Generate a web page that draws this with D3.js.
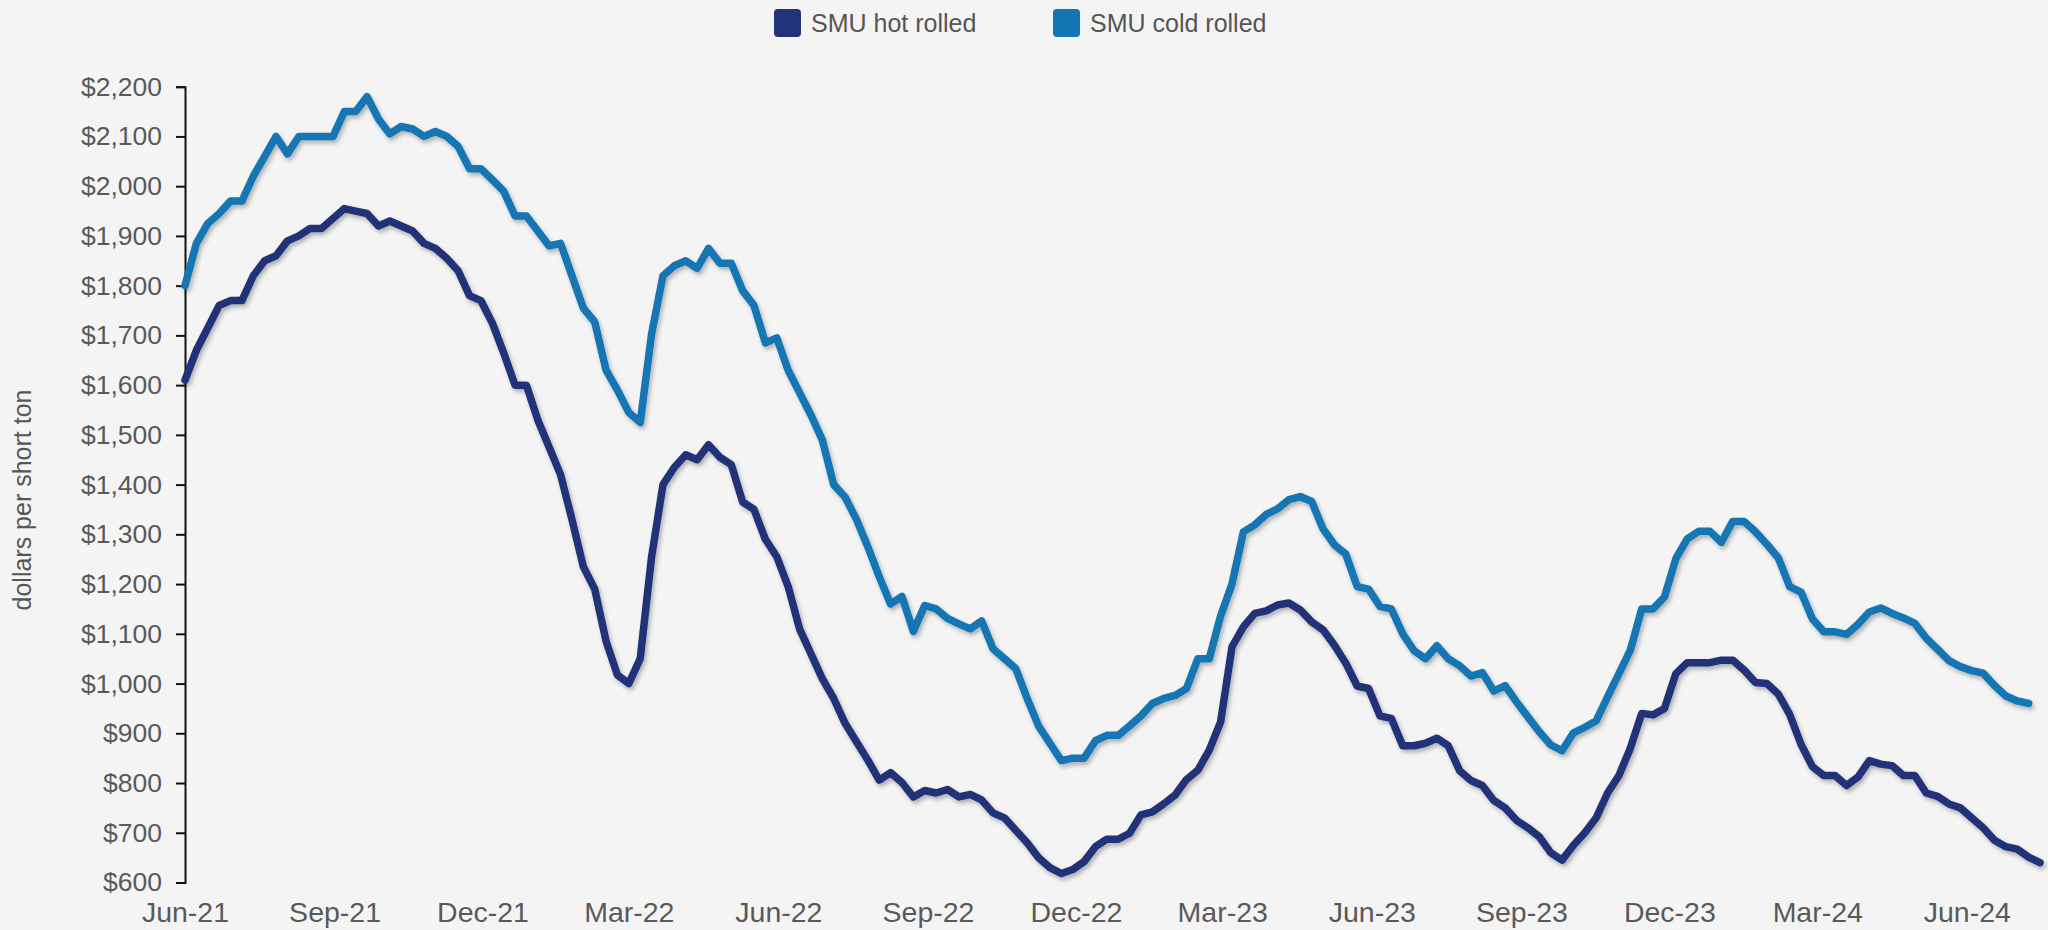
<!DOCTYPE html>
<html>
<head>
<meta charset="utf-8">
<script src="https://cdn.jsdelivr.net/npm/d3@7"></script>
<style>
  html, body { margin: 0; padding: 0; background: #f4f4f4; }
  svg { display: block; font-family: "Liberation Sans", Arial, Helvetica, sans-serif; }
</style>
</head>
<body>
<svg id="chart" width="2048" height="930"></svg>
<script>
// ---- data ----
const seriesNames = ["SMU hot rolled", "SMU cold rolled"];
const seriesColors = ["#213379", "#1276b4"];
const firstWeek = new Date(2021, 5, 1);   // weekly (Tuesday) readings
const lastWeek = new Date(2024, 6, 16);
const tickLabels = ["Jun-21","Sep-21","Dec-21","Mar-22","Jun-22","Sep-22","Dec-22",
                    "Mar-23","Jun-23","Sep-23","Dec-23","Mar-24","Jun-24"];
const yTicks = [600,700,800,900,1000,1100,1200,1300,1400,1500,1600,1700,1800,1900,2000,2100,2200];

const hotRolled = [
 1610,1670,1715,1760,1770,1770,1820,1850,1860,1890,1900,1915,1915,1935,1955,1950,1945,1920,1930,1920,
 1910,1885,1875,1855,1830,1780,1770,1725,1665,1600,1600,1530,1475,1420,1330,1235,1190,1085,1017,1000,
 1050,1255,1400,1435,1460,1450,1480,1455,1440,1365,1350,1290,1255,1195,1110,1060,1010,970,920,883,
 846,806,821,801,772,785,780,787,772,777,766,740,730,705,680,650,630,618,626,642,
 672,687,687,699,736,742,758,776,807,826,866,923,1074,1114,1141,1146,1158,1162,1148,1124,
 1108,1077,1041,995,990,935,930,875,875,880,890,875,825,805,795,765,750,725,710,692,
 660,645,675,700,730,780,815,870,940,937,950,1020,1042,1042,1042,1047,1047,1027,1002,1000,
 979,938,878,833,815,815,795,812,845,838,835,815,815,780,773,758,750,730,710,685,
 672,667,651,640
];
const coldRolled = [
 1800,1885,1925,1945,1970,1970,2020,2060,2100,2065,2100,2100,2100,2100,2150,2150,2180,2135,2105,2120,
 2115,2100,2110,2100,2080,2035,2035,2013,1990,1940,1940,1910,1880,1885,1820,1755,1727,1630,1590,1545,
 1525,1703,1820,1840,1850,1835,1875,1845,1845,1790,1760,1685,1695,1630,1585,1540,1490,1400,1375,1330,
 1275,1215,1160,1175,1105,1157,1150,1131,1120,1110,1126,1070,1050,1030,970,915,880,845,850,850,
 885,896,896,915,935,960,970,976,990,1050,1050,1136,1200,1305,1319,1340,1351,1370,1376,1366,
 1311,1279,1260,1195,1190,1155,1150,1100,1066,1050,1076,1050,1036,1015,1022,985,996,963,933,903,
 877,865,901,912,925,973,1020,1067,1150,1150,1174,1251,1291,1306,1306,1284,1326,1326,1305,1280,
 1253,1195,1184,1130,1104,1104,1099,1119,1144,1152,1141,1132,1121,1091,1069,1046,1034,1026,1021,996,
 975,965,960,null
];

// ---- layout ----
const svg = d3.select("#chart");
const W = 2048, H = 930;
const mLeft = 185, mRight = 2040, mTop = 86.7, mBottom = 882.5;

svg.append("rect").attr("width", W).attr("height", H).attr("fill", "#f4f4f4");

const weeks = d3.timeTuesday.range(firstWeek, d3.timeDay.offset(lastWeek, 1));
const x = d3.scaleTime().domain([firstWeek, lastWeek]).range([mLeft, mRight]);
const y = d3.scaleLinear().domain([600, 2200]).range([mBottom, mTop]);

const defs = svg.append("defs");
const f = defs.append("filter").attr("id", "shadow")
  .attr("x", "-5%").attr("y", "-5%").attr("width", "110%").attr("height", "110%");
f.append("feDropShadow").attr("dx", 2).attr("dy", 3).attr("stdDeviation", 2)
  .attr("flood-color", "#000").attr("flood-opacity", 0.28);

// y axis
const yAxis = d3.axisLeft(y).tickValues(yTicks)
  .tickFormat(d => "$" + d3.format(",")(d))
  .tickSize(9).tickPadding(14);
const gy = svg.append("g").attr("transform", `translate(${mLeft},0)`).call(yAxis);
gy.select(".domain").attr("stroke", "#111").attr("stroke-width", 2);
gy.selectAll(".tick line").attr("stroke", "#111").attr("stroke-width", 2);
gy.selectAll(".tick text").attr("fill", "#595959").attr("font-size", 26.5);

// x axis
const parseTick = d3.timeParse("%b-%y");
const xAxis = d3.axisBottom(x).tickValues(tickLabels.map(parseTick))
  .tickFormat(d3.timeFormat("%b-%y")).tickSize(0).tickPadding(19);
const gx = svg.append("g").attr("transform", `translate(0,${mBottom})`).call(xAxis);
gx.select(".domain").attr("stroke", "#111").attr("stroke-width", 2.5).attr("filter", "url(#shadow)");
gx.selectAll(".tick text").attr("fill", "#595959").attr("font-size", 28.5);

// y title
svg.append("text")
  .attr("transform", `translate(31,500) rotate(-90)`)
  .attr("text-anchor", "middle")
  .attr("fill", "#555")
  .attr("font-size", 25)
  .text("dollars per short ton");

// lines
const series = [hotRolled, coldRolled];
const line = d3.line()
  .defined(d => d.v != null)
  .x(d => x(d.date)).y(d => y(d.v))
  .curve(d3.curveLinear);

series.forEach((vals, k) => {
  const pts = weeks.map((date, i) => ({ date, v: vals[i] }));
  svg.append("path")
    .datum(pts)
    .attr("fill", "none")
    .attr("stroke", seriesColors[k])
    .attr("stroke-width", 7.5)
    .attr("stroke-linejoin", "round")
    .attr("stroke-linecap", "round")
    .attr("filter", "url(#shadow)")
    .attr("d", line);
});

// legend
const legendX = [774, 1053];
const lg = svg.append("g");
seriesNames.forEach((name, k) => {
  lg.append("rect").attr("x", legendX[k]).attr("y", 9).attr("width", 27).attr("height", 28)
    .attr("rx", 4).attr("fill", seriesColors[k]);
  lg.append("text").attr("x", legendX[k] + 37).attr("y", 23).attr("dy", "0.35em")
    .attr("fill", "#555").attr("font-size", 25).text(name);
});
</script>
</body>
</html>
